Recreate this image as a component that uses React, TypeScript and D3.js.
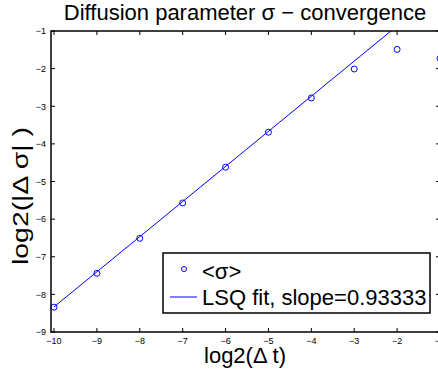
import React from "react";
import * as d3 from "d3";

const dtLog = [-10, -9, -8, -7, -6, -5, -4, -3, -2, -1];
const sigmaLog = [-8.34, -7.44, -6.51, -5.57, -4.62, -3.69, -2.78, -2.01, -1.49, -1.73];
const fitSlope = 0.93333;
const fitIntercept = 1.0;
const xTicks = [-10, -9, -8, -7, -6, -5, -4, -3, -2, -1];
const yTicks = [-9, -8, -7, -6, -5, -4, -3, -2, -1];
const titleText = "Diffusion parameter σ − convergence";
const xLabel = "log2(Δ t)";
const yLabel = "log2(|Δ σ| )";
const legendLabels = ["<σ>", "LSQ fit, slope=0.93333"];

export default function App() {
  const W = 438, H = 370;
  const x = d3.scaleLinear().domain([-10.07, -1]).range([51, 440]);
  const y = d3.scaleLinear().domain([-9, -1]).range([332, 31]);
  const [x0, x1] = x.range();
  const [yb, yt] = y.range();
  const font = "Liberation Sans, Arial, Helvetica, sans-serif";
  const blue = "#0000ff";
  const line = d3.line<number>().x((d) => x(d)).y((d) => y(fitSlope * d + fitIntercept));
  const tl = 4;
  return (
    <svg width={W} height={H} style={{ position: "absolute", left: 0, top: 0, background: "#fff" }} fontFamily={font}>
      <defs>
        <clipPath id="plotclip">
          <rect x={x0} y={yt} width={x1 - x0} height={yb - yt} />
        </clipPath>
      </defs>
      <rect x={0} y={0} width={W} height={H} fill="#fff" />
      <path d={line([-10, -1]) || ""} stroke={blue} strokeWidth={1} fill="none" clipPath="url(#plotclip)" />
      {dtLog.map((d, i) => (
        <circle key={i} cx={x(d)} cy={y(sigmaLog[i])} r={3} fill="none" stroke={blue} strokeWidth={1} />
      ))}
      <rect x={x0} y={yt} width={x1 - x0} height={yb - yt} fill="none" stroke="#000" strokeWidth={1.5} />
      {xTicks.map((t) => (
        <g key={"x" + t}>
          <line x1={x(t)} x2={x(t)} y1={yb} y2={yb - tl} stroke="#000" strokeWidth={1} />
          <line x1={x(t)} x2={x(t)} y1={yt} y2={yt + tl} stroke="#000" strokeWidth={1} />
          <text x={x(t)} y={344} fontSize={9} textAnchor="middle">{"−" + Math.abs(t)}</text>
        </g>
      ))}
      {yTicks.map((t) => (
        <g key={"y" + t}>
          <line x1={x0} x2={x0 + tl} y1={y(t)} y2={y(t)} stroke="#000" strokeWidth={1} />
          <line x1={x1} x2={x1 - tl} y1={y(t)} y2={y(t)} stroke="#000" strokeWidth={1} />
          <text x={46} y={y(t) + 3.3} fontSize={9} textAnchor="end">{"−" + Math.abs(t)}</text>
        </g>
      ))}
      <rect x={163} y={253} width={267} height={60} fill="#fff" stroke="#000" strokeWidth={1.5} />
      <circle cx={184} cy={269} r={2.5} fill="none" stroke={blue} strokeWidth={1} />
      <text x={202} y={279} fontSize={22}>{legendLabels[0]}</text>
      <line x1={170} x2={197} y1={297} y2={297} stroke={blue} strokeWidth={1} />
      <text x={202} y={305} fontSize={22}>{legendLabels[1]}</text>
      <text x={245} y={20} fontSize={22} textAnchor="middle">{titleText}</text>
      <text x={245} y={363} fontSize={22} textAnchor="middle">{xLabel}</text>
      <text transform={`translate(28,196) rotate(-90)`} fontSize={22} textAnchor="middle" textLength={138} lengthAdjust="spacingAndGlyphs">{yLabel}</text>
    </svg>
  );
}
